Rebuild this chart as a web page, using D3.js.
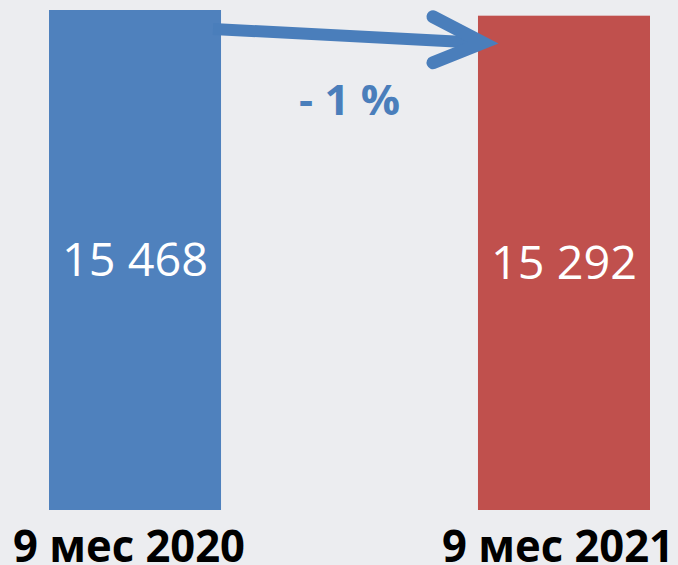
<!DOCTYPE html>
<html>
<head>
<meta charset="utf-8">
<script src="https://cdn.jsdelivr.net/npm/d3@7"></script>
<style>
  html, body { margin: 0; padding: 0; background: #ECEDF0; }
  svg { display: block; }
</style>
</head>
<body>
<svg id="chart"></svg>
<script>
// data
var categories = ["9 мес 2020", "9 мес 2021"];
var values = [15468, 15292];
var valueLabels = ["15 468", "15 292"];
var barColors = ["#4F81BD", "#C0504D"];

var width = 678, height = 565;
var svg = d3.select("#chart").attr("width", width).attr("height", height);

var x = d3.scaleBand()
    .domain(categories)
    .range([49, 650])
    .paddingInner(0.599)
    .paddingOuter(0);

var y = d3.scaleLinear()
    .domain([0, d3.max(values)])
    .range([510, 10]);

//bars
svg.selectAll("rect.bar")
    .data(categories)
    .enter().append("rect")
    .attr("class", "bar")
    .attr("x", function (d) { return x(d); })
    .attr("y", function (d, i) { return y(values[i]); })
    .attr("width", x.bandwidth())
    .attr("height", function (d, i) { return y(0) - y(values[i]); })
    .attr("fill", function (d, i) { return barColors[i]; });

//value labels in the middle of bars
svg.selectAll("text.val")
    .data(categories)
    .enter().append("text")
    .attr("class", "val")
    .attr("x", function (d) { return x(d) + x.bandwidth() / 2; })
    .attr("y", function (d, i) { return (y(values[i]) + y(0)) / 2 + 16; })
    .attr("text-anchor", "middle")
    .attr("font-family", "'Open Sans', sans-serif")
    .attr("font-size", 45)
    .attr("fill", "#ffffff")
    .attr("textLength", 146)
    .attr("lengthAdjust", "spacingAndGlyphs")
    .text(function (d, i) { return valueLabels[i]; });

//category labels
svg.selectAll("text.cat")
    .data(categories)
    .enter().append("text")
    .attr("class", "cat")
    .attr("x", function (d) { return x(d) + x.bandwidth() / 2 - 6; })
    .attr("y", 562)
    .attr("text-anchor", "middle")
    .attr("font-family", "'Open Sans', sans-serif")
    .attr("font-weight", "bold")
    .attr("font-size", 45)
    .attr("fill", "#000000")
    .attr("textLength", 232)
    .attr("lengthAdjust", "spacingAndGlyphs")
    .text(function (d) { return d; });

//arrow from first bar to second
var arrowColor = "#4A7EBB";
var x0 = x(categories[0]) + x.bandwidth() - 8, y0 = y(values[0]) + 19;
var x1 = x(categories[1]) + 5, y1 = y(values[1]) + 27;

svg.append("line")
    .attr("x1", x0).attr("y1", y0)
    .attr("x2", x1 - 4).attr("y2", y1)
    .attr("stroke", arrowColor)
    .attr("stroke-width", 12);

svg.append("path")
    .attr("d", "M" + (x1 - 50) + "," + (y1 - 26) + "L" + x1 + "," + y1 + "L" + (x1 - 50) + "," + (y1 + 20))
    .attr("fill", "none")
    .attr("stroke", arrowColor)
    .attr("stroke-width", 13)
    .attr("stroke-linecap", "round")
    .attr("stroke-linejoin", "miter");

//percent change
var change = Math.round((values[1] - values[0]) / values[0] * 100);
svg.append("text")
    .attr("x", (x(categories[0]) + x.bandwidth() + x(categories[1])) / 2)
    .attr("y", 115)
    .attr("text-anchor", "middle")
    .attr("font-family", "'Open Sans', sans-serif")
    .attr("font-weight", "bold")
    .attr("font-size", 42)
    .attr("fill", arrowColor)
    .attr("textLength", 101)
    .attr("lengthAdjust", "spacingAndGlyphs")
    .text("- " + Math.abs(change) + " %");
</script>
</body>
</html>
